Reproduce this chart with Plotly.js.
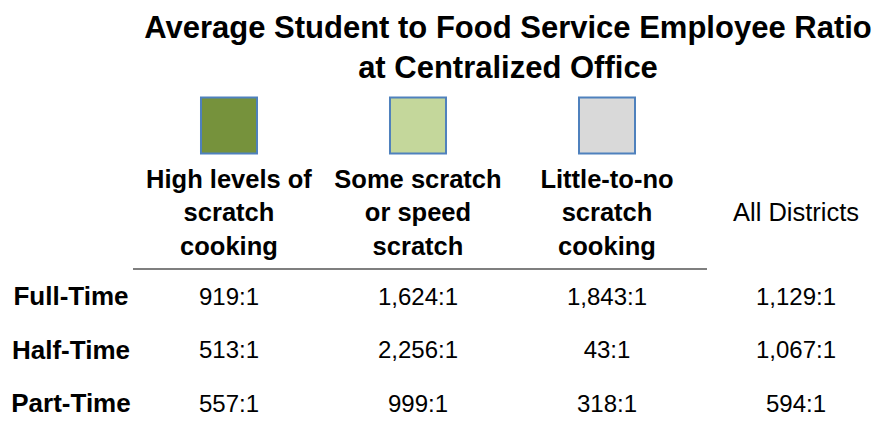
<!DOCTYPE html>
<html>
<head>
<meta charset="utf-8">
<script src="https://cdn.plot.ly/plotly-3.0.1.min.js"></script>
<style>html,body{margin:0;padding:0;background:#fff;}#chart{width:876px;height:423px;}</style>
</head>
<body>
<div id="chart"></div>
<script>
// ---- data ----
const chartTitle = 'Average Student to Food Service Employee Ratio<br>at Centralized Office';
const categories = ['High levels of<br>scratch<br>cooking', 'Some scratch<br>or speed<br>scratch', 'Little-to-no<br>scratch<br>cooking', 'All Districts'];
const boldHeader = [true, true, true, false];
const swatchColors = ['#76923c', '#c4d79b', '#d9d9d9'];
const rowLabels = ['Full-Time', 'Half-Time', 'Part-Time'];
const fullTime = [919, 1624, 1843, 1129];
const halfTime = [513, 2256, 43, 1067];
const partTime = [557, 999, 318, 594];
const rowValues = [fullTime, halfTime, partTime];

// ---- layout constants ----
const FONT = '"Liberation Sans", Arial, sans-serif';
const colX = categories.map((c, i) => i);
const rowLabelX = -0.836;
const swatchY = -3.243;
const headerY = -1.570;

const fmt = v => v.toLocaleString('en-US') + ':1';

const traces = [];
// swatches
traces.push({
  type: 'scatter', mode: 'markers', hoverinfo: 'skip', cliponaxis: false,
  x: swatchColors.map((c, i) => colX[i]),
  y: swatchColors.map(() => swatchY),
  marker: {symbol: 'square', size: 56, color: swatchColors, line: {color: '#4f81bd', width: 2}}
});
// headers
traces.push({
  type: 'scatter', mode: 'text', hoverinfo: 'skip', cliponaxis: false,
  x: colX, y: categories.map(() => headerY),
  text: categories.map((c, i) => boldHeader[i] ? '<b>' + c.split('<br>').join('</b><br><b>') + '</b>' : c),
  textposition: 'middle center',
  textfont: {family: FONT, size: 25.5, color: '#000'}
});
// row labels
traces.push({
  type: 'scatter', mode: 'text', hoverinfo: 'skip', cliponaxis: false,
  x: rowLabels.map(() => rowLabelX), y: rowLabels.map((r, i) => i),
  text: rowLabels.map(r => '<b>' + r + '</b>'),
  textposition: 'middle center',
  textfont: {family: FONT, size: 26, color: '#000'}
});
// values
rowValues.forEach((vals, r) => {
  traces.push({
    type: 'scatter', mode: 'text', hoverinfo: 'skip', cliponaxis: false,
    x: colX, y: vals.map(() => r),
    text: vals.map(fmt),
    textposition: 'middle center',
    textfont: {family: FONT, size: 24, color: '#000'}
  });
});

const layout = {
  width: 876, height: 423,
  margin: {l: 0, r: 0, t: 0, b: 0},
  paper_bgcolor: '#fff', plot_bgcolor: '#fff',
  showlegend: false,
  title: {
    text: chartTitle.split('<br>').map(s => '<b>' + s + '</b>').join('<br>'),
    x: 508 / 876, xanchor: 'center', xref: 'paper',
    y: 1 - 38 / 423, yanchor: 'middle', yref: 'paper',
    font: {family: FONT, size: 31, color: '#000'}
  },
  xaxis: {range: [-1.2116, 3.4233], visible: false, fixedrange: true},
  yaxis: {range: [2.318, -5.589], visible: false, fixedrange: true},
  shapes: [{
    type: 'line', xref: 'paper', yref: 'paper',
    x0: 133 / 876, x1: 707 / 876, y0: 1 - 269 / 423, y1: 1 - 269 / 423,
    line: {color: '#7f7f7f', width: 2}
  }]
};

Plotly.newPlot('chart', traces, layout, {staticPlot: true, displayModeBar: false});
</script>
</body>
</html>
